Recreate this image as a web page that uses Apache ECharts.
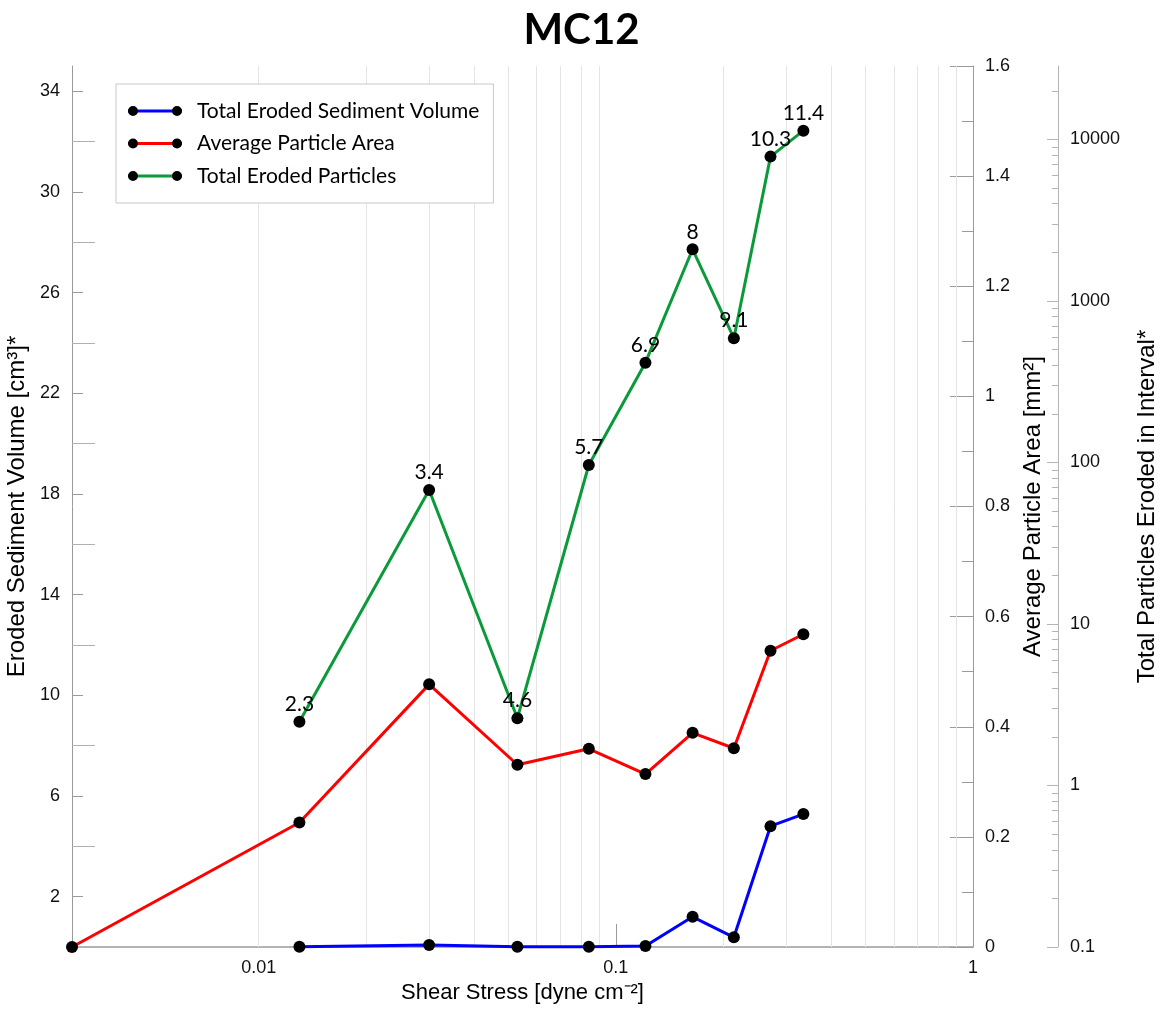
<!DOCTYPE html>
<html>
<head>
<meta charset="utf-8">
<script src="https://cdn.jsdelivr.net/npm/echarts@6/dist/echarts.min.js"></script>
<style>
html,body{margin:0;padding:0;background:#fff;}
#chart{width:1163px;height:1010px;}
</style>
</head>
<body>
<div id="chart"></div>
<script>
// ---- data ----
const shearStress    = [0.003, 0.013, 0.030, 0.053, 0.084, 0.121, 0.164, 0.214, 0.271, 0.335];
const sedimentVolume = [null,  0.01,  0.08,  0.01,  0.01,  0.04,  1.20,  0.385, 4.80,  5.28];
const particleArea   = [0,     0.226, 0.477, 0.331, 0.360, 0.314, 0.389, 0.361, 0.538, 0.568];
const particleCount  = [null,  2.48,  67.6,  2.61,  96.5,  415,   2090,  588,   7830,  11340];
const particleLabels = [null,  '2.3', '3.4', '4.6', '5.7', '6.9', '8',   '9.1', '10.3', '11.4'];

const seriesNames = ['Total Eroded Sediment Volume', 'Average Particle Area', 'Total Eroded Particles'];
const seriesColors = ['#0000ff', '#ff0000', '#0a9a3a'];

// axis tick values
const xLabelValues = [0.01, 0.1, 1];
const xTickValues = [0.01, 0.1];
const leftLabelValues = [2, 6, 10, 14, 18, 22, 26, 30, 34];
const leftMinorTicks = [4, 8, 12, 16, 20, 24, 28, 32];
const areaLabelValues = [0, 0.2, 0.4, 0.6, 0.8, 1, 1.2, 1.4, 1.6];
const areaMinorTicks = [0.1, 0.3, 0.5, 0.7, 0.9, 1.1, 1.3, 1.5];
const countLabelValues = [0.1, 1, 10, 100, 1000, 10000];
const decades = [0.001, 0.01, 0.1, 1, 10, 100, 1000, 10000];
const multipliers = [2, 3, 4, 5, 6, 7, 8, 9];

// minor log positions (2..9 × decade) used for grid lines and minor ticks
const xGridValues = [];
decades.forEach(d => multipliers.forEach(m => {
  const v = +(d * m).toPrecision(6);
  if (v > 0.003 && v < 1) xGridValues.push(v);
}));
const countMinorTicks = [];
decades.forEach(d => multipliers.forEach(m => {
  const v = +(d * m).toPrecision(6);
  if (v > 0.1 && v < 28500) countMinorTicks.push(v);
}));

function pairs(xs, ys) {
  const out = [];
  xs.forEach((x, i) => { if (ys[i] !== null) out.push([x, ys[i]]); });
  return out;
}
const countLabelsFiltered = particleLabels.filter((l, i) => particleCount[i] !== null);

const fmt = v => String(+(+v).toPrecision(6));
const axisGray = '#9a9a9a';
const FONT = "'Liberation Sans', Arial, sans-serif";
const labelFont = {fontFamily: FONT, fontSize: 18, color: '#111'};
const yNameFont = {fontFamily: FONT, fontSize: 24, color: '#000'};
const xNameFont = {fontFamily: FONT, fontSize: 22, color: '#000'};

const chart = echarts.init(document.getElementById('chart'), null, {renderer: 'canvas'});

const option = {
  animation: false,
  backgroundColor: '#fff',
  title: {
    text: 'MC12',
    left: 'center',
    top: 4,
    textStyle: {fontFamily: 'Lato', fontWeight: 'bold', fontSize: 42, color: '#000'}
  },
  legend: [
    {
      orient: 'vertical', left: 116, top: 84,
      padding: [16, 14, 16, 12],
      itemGap: 10.5,
      itemWidth: 54, itemHeight: 3,
      icon: 'rect',
      selectedMode: false,
      borderColor: '#c8c8c8', borderWidth: 1,
      backgroundColor: '#fff',
      textStyle: {fontFamily: 'Lato', fontSize: 21, color: '#000', lineHeight: 22, padding: [0, 0, 0, 10]},
      data: seriesNames.map((n, i) => ({name: n, itemStyle: {color: seriesColors[i]}}))
    },
    {
      orient: 'vertical', left: 116, top: 84,
      padding: [16, 14, 16, 12],
      itemGap: 10.5,
      itemWidth: 54, itemHeight: 10,
      icon: 'path://M0,5a5,5 0 1,0 10,0a5,5 0 1,0 -10,0zM44,5a5,5 0 1,0 10,0a5,5 0 1,0 -10,0z',
      selectedMode: false,
      borderWidth: 0,
      textStyle: {fontFamily: 'Lato', fontSize: 21, color: 'rgba(0,0,0,0)', lineHeight: 22, padding: [0, 0, 0, 10]},
      data: seriesNames.map(n => ({name: n, itemStyle: {color: '#000'}}))
    }
  ],
  grid: {left: 72, right: 190, top: 66, bottom: 63, containLabel: false, outerBoundsMode: 'none'},
  xAxis: [{
    type: 'log', logBase: 10, min: 0.003, max: 1,
    name: 'Shear Stress [dyne cm\u207B\u00B2]',
    nameLocation: 'middle', nameGap: 35,
    nameTextStyle: xNameFont,
    axisLine: {show: true, lineStyle: {color: axisGray, width: 1.5}},
    axisTick: {show: true, inside: true, length: 23, customValues: xTickValues, lineStyle: {color: axisGray}},
    axisLabel: Object.assign({margin: 12, customValues: xLabelValues, formatter: fmt}, labelFont),
    splitLine: {show: false}
  }],
  yAxis: [
    {
      type: 'value', position: 'left', min: 0, max: 35,
      name: 'Eroded Sediment Volume [cm\u00B3]*',
      nameLocation: 'middle', nameGap: 36,
      nameTextStyle: yNameFont,
      axisLine: {show: true, lineStyle: {color: axisGray}},
      axisTick: {show: true, inside: true, length: 11, customValues: leftLabelValues, lineStyle: {color: axisGray}},
      axisLabel: Object.assign({margin: 12, customValues: leftLabelValues, formatter: fmt}, labelFont),
      splitLine: {show: false}
    },
    {
      type: 'value', position: 'right', offset: 0, min: 0, max: 1.6,
      name: 'Average Particle Area [mm\u00B2]',
      nameLocation: 'middle', nameGap: 44,
      nameTextStyle: yNameFont,
      axisLine: {show: true, lineStyle: {color: axisGray}},
      axisTick: {show: true, inside: true, length: 23, customValues: areaLabelValues, lineStyle: {color: axisGray}},
      axisLabel: Object.assign({margin: 12, customValues: areaLabelValues, formatter: fmt}, labelFont),
      splitLine: {show: false}
    },
    {
      type: 'log', logBase: 10, position: 'right', offset: 85, min: 0.1, max: 28500,
      name: 'Total Particles Eroded in Interval*',
      nameLocation: 'middle', nameGap: 77,
      nameTextStyle: yNameFont,
      axisLine: {show: true, lineStyle: {color: '#b4b4b4'}},
      axisTick: {show: true, inside: true, length: 11, customValues: countLabelValues, lineStyle: {color: '#b4b4b4'}},
      axisLabel: Object.assign({margin: 12, customValues: countLabelValues, formatter: fmt}, labelFont),
      splitLine: {show: false}
    },
    {
      type: 'value', position: 'left', min: 0, max: 35,
      axisLine: {show: false},
      axisTick: {show: true, inside: true, length: 23, customValues: leftMinorTicks, lineStyle: {color: '#b0b0b0'}},
      axisLabel: {show: false},
      splitLine: {show: false}
    },
    {
      type: 'value', position: 'right', offset: 0, min: 0, max: 1.6,
      axisLine: {show: false},
      axisTick: {show: true, inside: true, length: 11, customValues: areaMinorTicks, lineStyle: {color: axisGray}},
      axisLabel: {show: false},
      splitLine: {show: false}
    },
    {
      type: 'log', logBase: 10, position: 'right', offset: 85, min: 0.1, max: 28500,
      axisLine: {show: false},
      axisTick: {show: true, inside: true, length: 6, customValues: countMinorTicks, lineStyle: {color: '#b4b4b4'}},
      axisLabel: {show: false},
      splitLine: {show: false}
    }
  ],
  series: [
    {
      type: 'line', xAxisIndex: 0, yAxisIndex: 0, data: [], z: 1, silent: true,
      markLine: {
        z: 1, silent: true, symbol: ['none', 'none'],
        label: {show: false},
        emphasis: {disabled: true},
        lineStyle: {color: '#e4e4e4', width: 1, type: 'solid'},
        data: xGridValues.map(v => ({xAxis: v}))
      }
    },
    {
      name: seriesNames[0], type: 'line', xAxisIndex: 0, yAxisIndex: 0,
      data: pairs(shearStress, sedimentVolume),
      symbol: 'circle', symbolSize: 12, clip: false, z: 3,
      itemStyle: {color: '#000'},
      lineStyle: {color: seriesColors[0], width: 3}
    },
    {
      name: seriesNames[1], type: 'line', xAxisIndex: 0, yAxisIndex: 1,
      data: pairs(shearStress, particleArea),
      symbol: 'circle', symbolSize: 12, clip: false, z: 3,
      itemStyle: {color: '#000'},
      lineStyle: {color: seriesColors[1], width: 3}
    },
    {
      name: seriesNames[2], type: 'line', xAxisIndex: 0, yAxisIndex: 2,
      data: pairs(shearStress, particleCount),
      symbol: 'circle', symbolSize: 12, clip: false, z: 3,
      itemStyle: {color: '#000'},
      lineStyle: {color: seriesColors[2], width: 3},
      label: {
        show: true, position: 'top', distance: 1,
        fontFamily: 'Lato', fontSize: 21, color: '#000',
        formatter: p => countLabelsFiltered[p.dataIndex]
      }
    }
  ]
};
chart.setOption(option);
</script>
</body>
</html>
